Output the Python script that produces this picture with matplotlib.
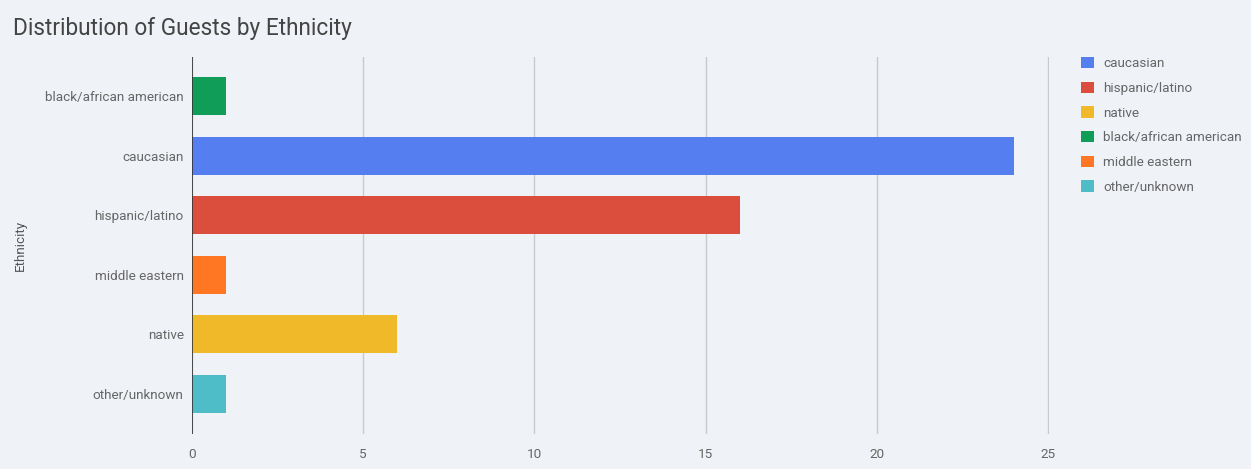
import matplotlib.pyplot as plt
from matplotlib.patches import Patch

# guests per ethnicity
ethnicity = ["black/african american", "caucasian", "hispanic/latino",
             "middle eastern", "native", "other/unknown"]
guests = [1, 24, 16, 1, 6, 1]
colors = ["#0f9d58", "#557ef0", "#db4e3e", "#ff7722", "#f0b92a", "#4fbdc7"]
legend_order = ["caucasian", "hispanic/latino", "native",
                "black/african american", "middle eastern", "other/unknown"]
xticks = [0, 5, 10, 15, 20, 25]

plt.rcParams["font.family"] = ["Roboto", "DejaVu Sans"]
bg = "#eff2f7"
fig = plt.figure(figsize=(12.51, 4.69), dpi=100, facecolor=bg)
ax = fig.add_axes([0.1535, 0.0746, 0.6850, 0.8039], facecolor=bg)

ax.barh(range(len(ethnicity)), guests, height=0.64, color=colors, zorder=3)
ax.set_yticks(range(len(ethnicity)))
ax.set_yticklabels(ethnicity)
ax.set_ylim(len(ethnicity) - 1 + 0.68, -0.66)
ax.set_xlim(0, 25.03)
ax.set_xticks(xticks)
ax.grid(axis="x", color="#c8cacf", linewidth=1, zorder=0)
ax.axvline(0, color="#333333", linewidth=1.2, zorder=4)
for s in ax.spines.values():
    s.set_visible(False)
ax.tick_params(length=0, labelsize=9.7, labelcolor="#666666", pad=6)
ax.tick_params(axis="x", pad=10)
ax.set_ylabel("Ethnicity", fontsize=9.7, color="#555555")
ax.yaxis.set_label_coords(-0.193, 0.5)

fig.text(0.0105, 0.94, "Distribution of Guests by Ethnicity", fontsize=16.3,
         color="#444444", va="center")

handles = [Patch(facecolor=colors[ethnicity.index(e)], label=e) for e in legend_order]
leg = fig.legend(handles=handles, loc="upper left", bbox_to_anchor=(0.8602, 0.89),
                 frameon=False, fontsize=9.7, labelcolor="#666666",
                 handlelength=0.9, handleheight=0.9, handletextpad=0.7,
                 labelspacing=0.85, borderaxespad=0)

fig.savefig("out.png", dpi=100, facecolor=bg)
